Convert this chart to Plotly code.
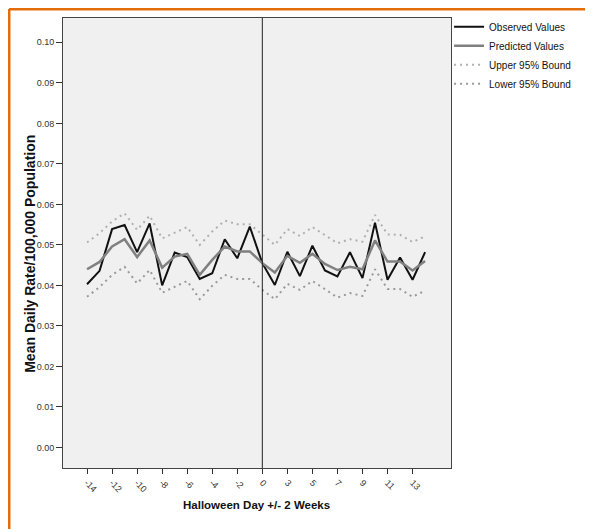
import plotly.graph_objects as go

days = list(range(-14, 1)) + [1] + list(range(3, 15))
tick_days = [-14, -12, -10, -8, -6, -4, -2, 0, 3, 5, 7, 9, 11, 13]

observed = [0.0403, 0.0436, 0.0539, 0.0549, 0.0482, 0.0553, 0.0400, 0.0481, 0.0470, 0.0416,
            0.0430, 0.0514, 0.0467, 0.0545, 0.0455, 0.0401, 0.0483, 0.0423, 0.0498, 0.0437,
            0.0422, 0.0482, 0.0418, 0.0555, 0.0414, 0.0469, 0.0414, 0.0482]
predicted = [0.0440, 0.0458, 0.0496, 0.0514, 0.0470, 0.0511, 0.0444, 0.0471, 0.0478, 0.0426,
             0.0463, 0.0496, 0.0484, 0.0484, 0.0455, 0.0432, 0.0473, 0.0456, 0.0478, 0.0453,
             0.0438, 0.0446, 0.0440, 0.0511, 0.0459, 0.0459, 0.0437, 0.0460]
upper = [0.0506, 0.0529, 0.0558, 0.0578, 0.0537, 0.0572, 0.0516, 0.0531, 0.0544, 0.0500,
         0.0533, 0.0560, 0.0551, 0.0551, 0.0525, 0.0500, 0.0539, 0.0522, 0.0544, 0.0525,
         0.0504, 0.0514, 0.0508, 0.0574, 0.0526, 0.0525, 0.0507, 0.0521]
lower = [0.0372, 0.0396, 0.0426, 0.0446, 0.0405, 0.0438, 0.0382, 0.0397, 0.0411, 0.0366,
         0.0399, 0.0426, 0.0416, 0.0416, 0.0389, 0.0366, 0.0404, 0.0389, 0.0411, 0.0391,
         0.0370, 0.0381, 0.0374, 0.0440, 0.0391, 0.0391, 0.0372, 0.0387]

FONT = "Liberation Sans, Arial, sans-serif"
x = [str(d) for d in days]

fig = go.Figure()
fig.add_trace(go.Scatter(x=x, y=observed, mode="lines", name="Observed Values",
                         line=dict(color="#111111", width=2)))
fig.add_trace(go.Scatter(x=x, y=predicted, mode="lines", name="Predicted Values",
                         line=dict(color="#808080", width=2.5)))
fig.add_trace(go.Scatter(x=x, y=upper, mode="lines", name="Upper 95% Bound",
                         line=dict(color="#b0b0b0", width=2, dash="2px,4px")))
fig.add_trace(go.Scatter(x=x, y=lower, mode="lines", name="Lower 95% Bound",
                         line=dict(color="#999999", width=2, dash="2px,4px")))

# reference line at Halloween day (category index of day 0)
zero_idx = days.index(0)
fig.add_shape(type="line", xref="x", yref="paper", x0=zero_idx, x1=zero_idx, y0=0, y1=1,
              line=dict(color="#222222", width=1))

# orange frame (top and left edges of the figure)
fig.add_shape(type="line", xref="paper", yref="paper", x0=-0.1392, x1=1.45, y0=1.02, y1=1.02,
              line=dict(color="#E46C0A", width=3))
fig.add_shape(type="line", xref="paper", yref="paper", x0=-0.1392, x1=-0.1392, y0=1.02, y1=-0.2,
              line=dict(color="#E46C0A", width=3))

fig.add_annotation(text="<b>Mean Daily Rate/100,000 Population</b>", xref="paper", yref="paper",
                   x=(30 - 63) / 388, y=0.476, textangle=-90, showarrow=False,
                   xanchor="center", yanchor="middle",
                   font=dict(family=FONT, size=14, color="#111111"))
fig.add_annotation(text="<b>Halloween Day +/- 2 Weeks</b>", xref="paper", yref="paper",
                   x=(256 - 63) / 388, y=(468 - 505) / 450, showarrow=False,
                   xanchor="center", yanchor="middle",
                   font=dict(family=FONT, size=11.5, color="#111111"))

fig.update_layout(
    width=593, height=529,
    margin=dict(l=55, r=150, t=10, b=69, autoexpand=False),
    paper_bgcolor="white", plot_bgcolor="#F0F0F0",
    font=dict(family=FONT, size=9, color="#222222"),
    showlegend=True,
    legend=dict(x=0.995, y=1.013, xanchor="left", yanchor="top",
                font=dict(family=FONT, size=10, color="#111111"),
                bgcolor="rgba(0,0,0,0)", itemwidth=30, tracegroupgap=0),
    xaxis=dict(type="category", range=[-1.92, 29.07], tickmode="array",
               tickvals=[str(d) for d in tick_days], ticktext=[str(d) for d in tick_days],
               tickangle=45, ticks="outside", ticklen=5, tickcolor="#333333",
               showgrid=False, zeroline=False, showline=True, linecolor="#444444",
               linewidth=1, mirror=True, tickfont=dict(size=9, color="#333333")),
    yaxis=dict(range=[-0.00506, 0.1060], tickmode="array",
               tickvals=[i / 100 for i in range(11)], tickformat=".2f",
               ticks="outside", ticklen=6, tickcolor="#333333",
               showgrid=False, zeroline=False, showline=True, linecolor="#444444",
               linewidth=1, mirror=True, tickfont=dict(size=9, color="#333333")),
)

fig.write_html("out.html")
